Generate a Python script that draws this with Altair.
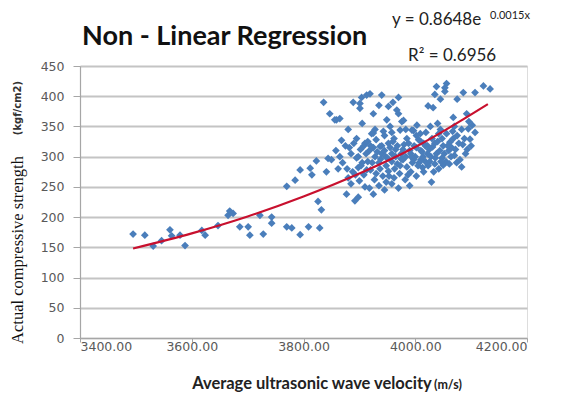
import altair as alt
import pandas as pd

# Scatter data
vel = [3495, 3516, 3531, 3546, 3561, 3564, 3579, 3588, 3618, 3624,
       3647, 3665, 3674, 3668, 3686, 3701, 3704, 3722, 3728, 3743,
       3743, 3770, 3779, 3794, 3809, 3829, 3826, 3832, 3770, 3785,
       3794, 3812, 3815, 3823, 3844, 3841, 3836, 3847, 3859, 3856,
       3889, 3901, 3904, 3913, 3919, 3940, 3952, 3967, 3970, 3901,
       3925, 3976, 3970, 3979, 4023, 4032, 4035, 4038, 4053, 4056,
       4053, 4086, 4107, 4122, 4134, 4068, 4092, 3949, 3865,
       3922, 3925, 3973, 3994, 3997, 4009, 4056, 4062, 4095, 4107,
       4098, 3937, 3880, 3895, 3910, 3930, 3945, 3960, 3985, 4015,
       4030, 4045, 4075, 4085, 4100, 3955, 3905, 3890, 4040, 4070,
       4003, 3965, 3918, 3928, 3940, 3950, 3975, 3990, 4000, 4012,
       4025, 4038, 4048, 4060, 4070, 4080, 4090, 3885, 3895, 3905,
       3912, 3935, 3948, 3958, 3968, 3978, 3985, 3995, 4005, 4018,
       4028, 4035, 4042, 4055, 3870, 3878, 3888, 3898, 3908, 3920,
       3930, 3942, 3952, 3962, 3972, 3982, 3992, 4002, 4015, 4029,
       4050, 4083, 3877, 3892, 3898, 3925, 3910, 3885, 3900, 3935,
       3945, 3958, 3970, 3990, 3880, 3862, 3865, 3858, 3875, 3850,
       3868, 3940, 3955, 3920, 3980, 3998, 4010, 4022, 4035, 4050,
       4065, 4010, 3965, 3915, 3902,
       3915, 3925, 3932, 3938, 3945, 3952, 3958, 3962, 3968, 3975,
       3978, 3983, 3988, 3992, 3997, 4002, 4006, 4010, 4014, 4018,
       4022, 4026, 4031, 4036, 4040, 4044, 4048, 4052, 4058, 4064,
       4068, 4072, 4078, 4088, 4093, 3898, 3903, 3908, 3913, 3923,
       3927, 3937, 3947, 3953, 3963, 3973, 3987, 3993, 4007, 4013,
       4023, 4033, 4046, 4061, 4074, 3928, 3943, 3958, 3983, 4019,
       4027, 4042, 4067, 4083, 4096, 4102, 3960, 3935, 4045, 4075,
       3882, 3893, 3918, 3948, 4002]
strength = [172, 170, 152, 161, 179, 169, 170, 153, 178, 170,
            186, 203, 206, 210, 184, 184, 170, 203, 172, 200,
            190, 184, 182, 171, 184, 182, 226, 212, 251, 261,
            278, 281, 270, 293, 297, 275, 390, 371, 361, 361,
            390, 388, 398, 402, 404, 402, 383, 377, 398, 380,
            371, 358, 371, 360, 384, 381, 403, 416, 414, 421,
            408, 406, 406, 417, 412, 365, 371, 361, 363,
            338, 339, 344, 344, 343, 338, 338, 324, 346, 340,
            329, 317, 345, 330, 322, 328, 335, 325, 330, 322,
            330, 345, 335, 320, 318, 350, 355, 322, 355, 350,
            352, 312, 310, 300, 305, 298, 305, 310, 300, 308,
            312, 305, 298, 310, 302, 295, 305, 305, 298, 290,
            305, 290, 285, 292, 288, 295, 283, 290, 285, 292,
            300, 288, 280, 292, 290, 280, 275, 282, 270, 278,
            272, 268, 276, 265, 272, 262, 275, 268, 275, 258,
            286, 283, 238, 227, 233, 238, 250, 255, 260, 252,
            245, 255, 248, 252, 265, 280, 300, 310, 318, 295,
            327, 318, 315, 318, 320, 318, 325, 318, 322, 318,
            315, 295, 300, 292, 312,
            325, 315, 308, 296, 310, 322, 305, 330, 318, 296,
            312, 300, 322, 305, 295, 315, 328, 310, 300, 318,
            305, 292, 316, 298, 325, 310, 330, 305, 318, 300,
            330, 312, 322, 330, 312, 300, 285, 318, 278, 290,
            262, 280, 300, 268, 280, 285, 270, 300, 290, 282,
            285, 275, 292, 288, 290, 345, 342, 340, 345, 340,
            350, 338, 342, 345, 358, 352, 390, 385, 395, 395,
            315, 270, 248, 258, 335]

# Trend line
trend_x = [3495, 3600, 3700, 3800, 3900, 4000, 4130]
trend_y = [148, 173, 201, 234, 272, 316, 387]

x_ticks = [3400, 3600, 3800, 4000, 4200]
y_ticks = [0, 50, 100, 150, 200, 250, 300, 350, 400, 450]

df = pd.DataFrame({"x": vel, "y": strength})
tdf = pd.DataFrame({"x": trend_x, "y": trend_y})

BLUE = "#4a7ebb"
RED = "#c8102e"
LABEL = "#595959"

x_enc = alt.X("x:Q", scale=alt.Scale(domain=[3400, 4200], nice=False, zero=False),
              axis=alt.Axis(values=x_ticks, format=".2f", title=None, grid=False,
                            labelFont="DejaVu Sans", labelFontSize=12.5, labelColor=LABEL,
                            domainColor="#a6a6a6", tickColor="#a6a6a6", tickSize=4,
                            labelPadding=-2, domainWidth=1.2, labelOverlap=False))
y_enc = alt.Y("y:Q", scale=alt.Scale(domain=[0, 450], nice=False),
              axis=alt.Axis(values=y_ticks, title=None, grid=True, gridColor="#c4c4c4",
                            gridWidth=1.8, labelFont="DejaVu Sans", labelFontSize=12.5,
                            labelColor=LABEL, domainColor="#a6a6a6", tickColor="#a6a6a6",
                            tickSize=7, labelPadding=9, domainWidth=1.2, labelOverlap=False))

points = alt.Chart(df).mark_point(shape="diamond", filled=True, size=60, color=BLUE, opacity=1).encode(
    x=x_enc, y=y_enc)

trend = alt.Chart(tdf).mark_line(color=RED, strokeWidth=2.2, interpolate="monotone").encode(
    x=x_enc, y=y_enc)

def txt(text, x, y, size, font="Lato", weight="normal", color="black", angle=0, align="left", baseline="alphabetic"):
    return alt.Chart(pd.DataFrame({"t": [text]})).mark_text(
        font=font, fontSize=size, fontWeight=weight, color=color, angle=angle,
        align=align, baseline=baseline
    ).encode(text="t:N", x=alt.value(x), y=alt.value(y))

title = txt("Non - Linear Regression", 2, -21, 27, weight="bold", color="#111111")
eq1 = txt("y = 0.8648e", 312, -41, 17, color="#222222")
eq2 = txt("0.0015x", 410, -47, 11, color="#222222")
r2 = txt("R² = 0.6956", 328, -5, 17, color="#222222")
ytitle1 = txt("Actual compressive strength", -62, 184, 16.5, font="Liberation Serif",
              color="#111111", angle=270, align="center", baseline="middle")
ytitle2 = txt("(kgf/cm2)", -62, 42, 10, font="DejaVu Sans", weight="bold",
              color="#333333", angle=270, align="center", baseline="middle")
xtitle1 = txt("Average ultrasonic wave velocity", 232, 318, 16.5, weight="bold",
              color="#222222", align="center", baseline="middle")
xtitle2 = txt("(m/s)", 354, 319, 12.5, weight="bold", color="#222222",
              align="left", baseline="middle")

chart = alt.layer(points, trend, title, eq1, eq2, r2, ytitle1, ytitle2, xtitle1, xtitle2).properties(
    width=447, height=272,
    autosize=alt.AutoSizeParams(type="none"),
    padding={"left": 72, "top": 58, "right": 36, "bottom": 56},
).configure_view(stroke=None).configure(background="white")

chart.save("out.html", embed_options={"renderer": "svg", "actions": False})
